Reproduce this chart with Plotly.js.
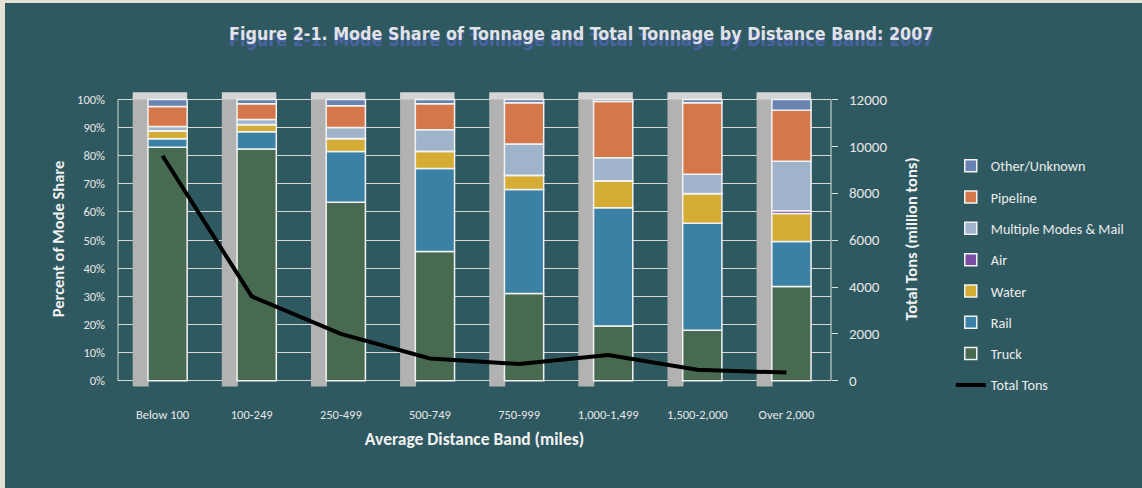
<!DOCTYPE html>
<html>
<head>
<meta charset="utf-8">
<script src="https://cdn.plot.ly/plotly-3.0.1.min.js"></script>
<style>
  html, body { margin: 0; padding: 0; background: #e4e0d8; }
  #chart { width: 1142px; height: 488px; }
</style>
</head>
<body>
<div id="chart"></div>
<script>
// ---- Data ----
var categories = ['Below 100', '100-249', '250-499', '500-749', '750-999', '1,000-1,499', '1,500-2,000', 'Over 2,000'];
var truck    = [83.0, 82.4, 63.5, 46.0, 31.0, 19.5, 18.0, 33.5];
var rail     = [3.0, 6.1, 18.0, 29.5, 37.0, 42.0, 38.0, 16.0];
var water    = [2.8, 2.5, 4.5, 6.0, 5.0, 9.5, 10.5, 10.0];
var air      = [0.1, 0.1, 0.1, 0.1, 0.1, 0.1, 0.1, 0.9];
var multi    = [1.5, 1.8, 3.9, 7.6, 11.1, 8.2, 6.8, 17.6];
var pipeline = [7.1, 5.6, 7.8, 9.3, 14.6, 20.0, 25.4, 18.2];
var other    = [2.5, 1.5, 2.2, 1.5, 1.2, 0.7, 1.2, 3.8];
var totalTons = [9600, 3600, 2000, 950, 720, 1100, 470, 350];
var leftTicks = [0, 10, 20, 30, 40, 50, 60, 70, 80, 90, 100];
var leftTickText = ['0%', '10%', '20%', '30%', '40%', '50%', '60%', '70%', '80%', '90%', '100%'];
var rightTicks = [0, 2000, 4000, 6000, 8000, 10000, 12000];

// ---- Series definitions (bottom to top) ----
var series = [
  {name: 'Truck', values: truck, color: '#486a51'},
  {name: 'Rail', values: rail, color: '#3a81a5'},
  {name: 'Water', values: water, color: '#d5ad35'},
  {name: 'Air', values: air, color: '#7a4ea2'},
  {name: 'Multiple Modes & Mail', values: multi, color: '#9fb4ca'},
  {name: 'Pipeline', values: pipeline, color: '#d4774a'},
  {name: 'Other/Unknown', values: other, color: '#6883b2'}
];
var legendRank = {'Other/Unknown': 1, 'Pipeline': 2, 'Multiple Modes & Mail': 3, 'Air': 4, 'Water': 5, 'Rail': 6, 'Truck': 7};

var FRONT_OFFSET = -0.164, FRONT_WIDTH = 0.44;
var SIDE_OFFSET = -0.335, SIDE_WIDTH = 0.18;
// axis range padding so the 3D caps/bottoms are visible
var Y_LOW = -2.2, Y_HIGH = 103;
var PCT_MAX = 100, TONS_MAX = 12000;
var scale = TONS_MAX / PCT_MAX;

var traces = [];
// 3D side face (decorative, full column)
traces.push({
  type: 'bar', x: categories, y: categories.map(function () { return 103; }),
  base: categories.map(function () { return -2; }),
  offset: SIDE_OFFSET, width: SIDE_WIDTH,
  marker: {color: '#b2b2b2', line: {width: 0}},
  showlegend: false, hoverinfo: 'skip'
});
// 3D top cap (decorative)
traces.push({
  type: 'bar', x: categories, y: categories.map(function () { return 2.6; }),
  base: categories.map(function () { return 100; }),
  offset: SIDE_OFFSET, width: FRONT_WIDTH + (FRONT_OFFSET - SIDE_OFFSET),
  marker: {color: '#d4d4d4', line: {width: 0}},
  showlegend: false, hoverinfo: 'skip'
});

// stacked front faces with explicit bases
var cum = categories.map(function () { return 0; });
series.forEach(function (s) {
  var base = cum.slice();
  traces.push({
    type: 'bar', name: s.name, x: categories, y: s.values, base: base,
    offset: FRONT_OFFSET, width: FRONT_WIDTH,
    marker: {color: s.color, line: {color: '#f2f2f2', width: 1.5}},
    legendrank: legendRank[s.name], legendgroup: s.name,
    hovertemplate: s.name + ': %{y:.1f}%<extra></extra>'
  });
  cum = cum.map(function (c, i) { return c + s.values[i]; });
});

// Total tons line
traces.push({
  type: 'scatter', mode: 'lines', name: 'Total Tons', x: categories, y: totalTons,
  yaxis: 'y2', line: {color: '#000000', width: 4},
  legendrank: 8, legendgroup: 'Total Tons',
  hovertemplate: 'Total Tons: %{y}<extra></extra>'
});

var fontFam = 'Carlito, Lato, "Open Sans", sans-serif';
var tickColor = '#e6e6e6';

// plot area: y from 91 to 387 px
var PT = 91, PB = 387, PH = PB - PT;

var layout = {
  width: 1142, height: 488,
  margin: {l: 118, r: 311, t: PT, b: 488 - PB},
  paper_bgcolor: '#e4e0d8',
  plot_bgcolor: 'rgba(0,0,0,0)',
  barmode: 'overlay',
  font: {family: fontFam, color: tickColor, size: 12},
  title: {
    text: 'Figure 2-1. Mode Share of Tonnage and Total Tonnage by Distance Band: 2007',
    xref: 'container', x: 0.509, xanchor: 'center',
    yref: 'container', y: 0.93, yanchor: 'middle',
    font: {family: '"Liberation Sans Narrow", "DejaVu Sans Condensed", "Arial Narrow", sans-serif',
           size: 17.8, color: '#e2e2ea', weight: 700, shadow: '0px 6px 1px #4d64a6'}
  },
  xaxis: {
    type: 'category', range: [-0.5, 7.5],
    showgrid: false, zeroline: false, showline: false,
    ticks: '', ticklabelstandoff: 18,
    tickfont: {family: fontFam, size: 12.5, color: tickColor},
    title: {text: 'Average Distance Band (miles)', standoff: 12,
            font: {family: fontFam, size: 17.5, color: '#f2f2f2', weight: 700}}
  },
  yaxis: {
    range: [Y_LOW, Y_HIGH], tickvals: leftTicks, ticktext: leftTickText,
    showgrid: true, gridcolor: '#d8d8d8', gridwidth: 1,
    zeroline: false, showline: false,
    ticks: '', ticklabelstandoff: 12,
    tickfont: {family: fontFam, size: 12.5, color: tickColor},
    title: {text: 'Percent of Mode Share', standoff: 8,
            font: {family: fontFam, size: 16.5, color: '#f2f2f2', weight: 700}}
  },
  yaxis2: {
    overlaying: 'y', side: 'right', range: [Y_LOW * scale, Y_HIGH * scale],
    tickvals: rightTicks, tickformat: 'd',
    showgrid: false, zeroline: false, showline: false,
    ticks: 'outside', ticklen: 6, tickcolor: '#e0e0e0', ticklabelstandoff: 8,
    tickfont: {family: fontFam, size: 15, color: tickColor},
    title: {text: 'Total Tons (million tons)', standoff: 19,
            font: {family: fontFam, size: 16.5, color: '#f2f2f2', weight: 700}}
  },
  legend: {
    x: 1.168, xanchor: 'left', y: (PB - 150) / PH, yanchor: 'top',
    traceorder: 'grouped', tracegroupgap: 9.85,
    bgcolor: 'rgba(0,0,0,0)',
    font: {family: fontFam, size: 14.2, color: '#ececec'}
  },
  shapes: [
    {
      type: 'rect', xref: 'paper', yref: 'paper', layer: 'below',
      x0: (5 - 118) / 713, x1: (1150 - 118) / 713,
      y0: (PB - 495) / PH, y1: (PB - 3) / PH,
      line: {width: 0}, fillcolor: '#2f5960'
    },
    {type: 'line', xref: 'paper', yref: 'y', x0: 0, x1: 0, y0: 0, y1: PCT_MAX,
     line: {color: '#d8d8d8', width: 1}, layer: 'below'},
    {type: 'line', xref: 'paper', yref: 'y', x0: 1, x1: 1, y0: 0, y1: PCT_MAX,
     line: {color: '#e0e0e0', width: 1}, layer: 'below'}
  ]
};

Plotly.newPlot('chart', traces, layout, {displayModeBar: false, staticPlot: true});
</script>
</body>
</html>
